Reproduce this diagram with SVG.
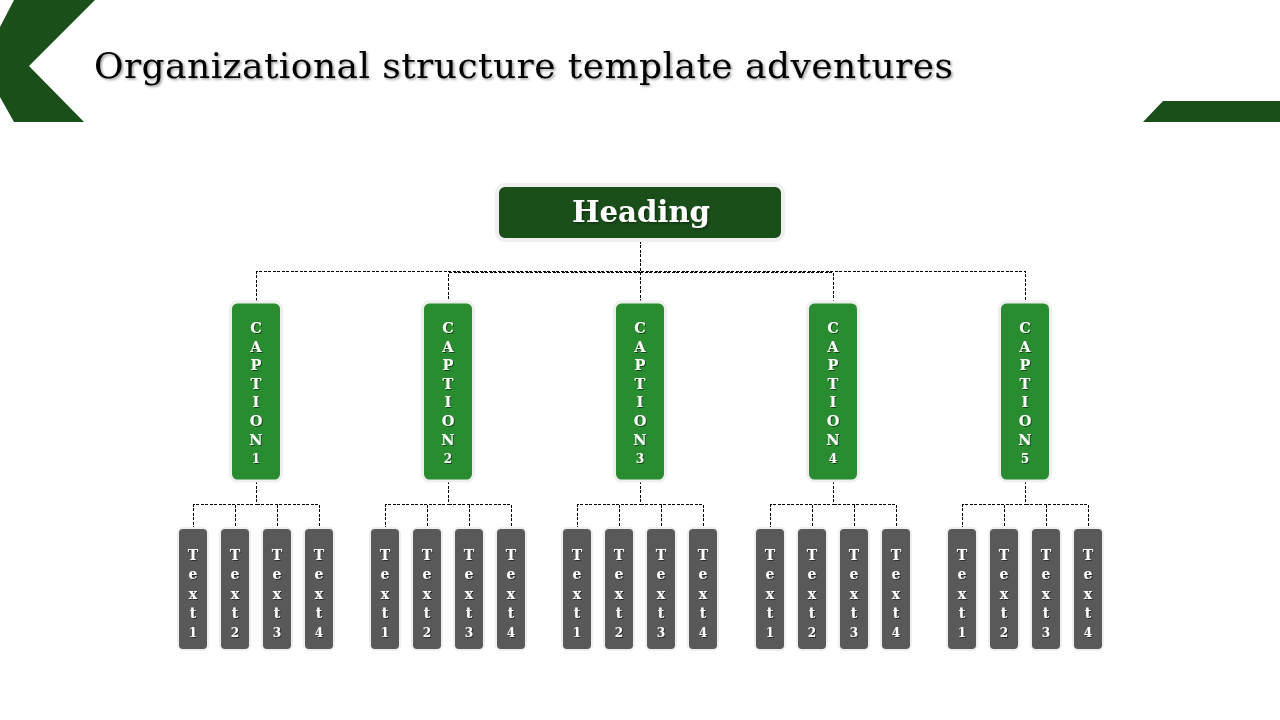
<svg xmlns="http://www.w3.org/2000/svg" width="1280" height="720" viewBox="0 0 1280 720">
<defs>
<filter id="sh" x="-10%" y="-30%" width="120%" height="160%"><feDropShadow dx="1.5" dy="1.5" stdDeviation="1" flood-color="#000" flood-opacity="0.4"/></filter>
<filter id="sh2" x="-50%" y="-50%" width="200%" height="200%"><feDropShadow dx="1" dy="1" stdDeviation="0.6" flood-color="#000" flood-opacity="0.5"/></filter>
</defs>
<style>
.title{font-family:"DejaVu Serif","Liberation Serif",serif;font-size:36px;fill:#000}
.head{font-family:"DejaVu Serif","Liberation Serif",serif;font-size:30px;font-weight:bold;fill:#fff}
.cap{font-family:"DejaVu Serif","Liberation Serif",serif;font-size:14.5px;font-weight:bold;fill:#fff;text-anchor:middle}
.txt{font-family:"DejaVu Serif","Liberation Serif",serif;font-size:14px;font-weight:bold;fill:#fff;text-anchor:middle}
.dg{fill:#1a4f1a}
.capbox{fill:#2a8c30;stroke:#efefef;stroke-width:3}
.tbox{fill:#595959;stroke:#efefef;stroke-width:2}
.con{fill:none;stroke:#000;stroke-width:1;stroke-dasharray:3 1.5;shape-rendering:crispEdges}
</style>
<rect width="1280" height="720" fill="#fff"/>
<g id="decor">
<polygon class="dg" points="14,0 95,0 29,66 84,122 14,122 0,97 0,27"/>
<polygon class="dg" points="1163,101 1280,101 1280,122 1143,122"/>
</g>
<g id="title"><text class="title" x="94" y="78" textLength="859" lengthAdjust="spacing" filter="url(#sh)">Organizational structure template adventures</text></g>
<g id="connectors">
<path class="con" d="M640.5 236 V271.5 H256.5 V302"/>
<path class="con" d="M640.5 236 V272.5 H448.5 V302"/>
<path class="con" d="M640.5 236 V272.5 V302"/>
<path class="con" d="M640.5 236 V272.5 H833.5 V302"/>
<path class="con" d="M640.5 236 V271.5 H1025.5 V302"/>
<path class="con" d="M256.5 481 V504.5 H193.5 V528 M256.5 504.5 H319.5 V528 M235.5 504.5 V528 M277.5 504.5 V528"/>
<path class="con" d="M448.5 481 V504.5 H385.5 V528 M448.5 504.5 H511.5 V528 M427.5 504.5 V528 M469.5 504.5 V528"/>
<path class="con" d="M640.5 481 V504.5 H577.5 V528 M640.5 504.5 H703.5 V528 M619.5 504.5 V528 M661.5 504.5 V528"/>
<path class="con" d="M833.5 481 V504.5 H770.5 V528 M833.5 504.5 H896.5 V528 M812.5 504.5 V528 M854.5 504.5 V528"/>
<path class="con" d="M1025.5 481 V504.5 H962.5 V528 M1025.5 504.5 H1088.5 V528 M1004.5 504.5 V528 M1046.5 504.5 V528"/>
</g>
<g id="heading">
<rect x="497" y="185" width="286" height="55" rx="8" fill="#1a4f1a" stroke="#efefef" stroke-width="4"/>
<text class="head" x="572" y="222" textLength="138" lengthAdjust="spacingAndGlyphs" filter="url(#sh)">Heading</text>
</g>
<g id="caption1"><rect class="capbox" x="230.5" y="302" width="51" height="179" rx="7"/>
<text class="cap" filter="url(#sh2)"><tspan x="256" y="333">C</tspan><tspan x="256" y="351.6">A</tspan><tspan x="256" y="370.2">P</tspan><tspan x="256" y="388.8">T</tspan><tspan x="256" y="407.4">I</tspan><tspan x="256" y="426">O</tspan><tspan x="256" y="444.6">N</tspan><tspan x="256" y="463" font-size="12">1</tspan></text></g>
<g id="caption2"><rect class="capbox" x="422.5" y="302" width="51" height="179" rx="7"/>
<text class="cap" filter="url(#sh2)"><tspan x="448" y="333">C</tspan><tspan x="448" y="351.6">A</tspan><tspan x="448" y="370.2">P</tspan><tspan x="448" y="388.8">T</tspan><tspan x="448" y="407.4">I</tspan><tspan x="448" y="426">O</tspan><tspan x="448" y="444.6">N</tspan><tspan x="448" y="463" font-size="12">2</tspan></text></g>
<g id="caption3"><rect class="capbox" x="614.5" y="302" width="51" height="179" rx="7"/>
<text class="cap" filter="url(#sh2)"><tspan x="640" y="333">C</tspan><tspan x="640" y="351.6">A</tspan><tspan x="640" y="370.2">P</tspan><tspan x="640" y="388.8">T</tspan><tspan x="640" y="407.4">I</tspan><tspan x="640" y="426">O</tspan><tspan x="640" y="444.6">N</tspan><tspan x="640" y="463" font-size="12">3</tspan></text></g>
<g id="caption4"><rect class="capbox" x="807.5" y="302" width="51" height="179" rx="7"/>
<text class="cap" filter="url(#sh2)"><tspan x="833" y="333">C</tspan><tspan x="833" y="351.6">A</tspan><tspan x="833" y="370.2">P</tspan><tspan x="833" y="388.8">T</tspan><tspan x="833" y="407.4">I</tspan><tspan x="833" y="426">O</tspan><tspan x="833" y="444.6">N</tspan><tspan x="833" y="463" font-size="12">4</tspan></text></g>
<g id="caption5"><rect class="capbox" x="999.5" y="302" width="51" height="179" rx="7"/>
<text class="cap" filter="url(#sh2)"><tspan x="1025" y="333">C</tspan><tspan x="1025" y="351.6">A</tspan><tspan x="1025" y="370.2">P</tspan><tspan x="1025" y="388.8">T</tspan><tspan x="1025" y="407.4">I</tspan><tspan x="1025" y="426">O</tspan><tspan x="1025" y="444.6">N</tspan><tspan x="1025" y="463" font-size="12">5</tspan></text></g>

<g id="g1t1"><rect class="tbox" x="178" y="528" width="30" height="122" rx="5"/><text class="txt" filter="url(#sh2)"><tspan x="193" y="560">T</tspan><tspan x="193" y="579.3">e</tspan><tspan x="193" y="598.6">x</tspan><tspan x="193" y="617.9">t</tspan><tspan x="193" y="637.2" font-size="12">1</tspan></text></g>
<g id="g1t2"><rect class="tbox" x="220" y="528" width="30" height="122" rx="5"/><text class="txt" filter="url(#sh2)"><tspan x="235" y="560">T</tspan><tspan x="235" y="579.3">e</tspan><tspan x="235" y="598.6">x</tspan><tspan x="235" y="617.9">t</tspan><tspan x="235" y="637.2" font-size="12">2</tspan></text></g>
<g id="g1t3"><rect class="tbox" x="262" y="528" width="30" height="122" rx="5"/><text class="txt" filter="url(#sh2)"><tspan x="277" y="560">T</tspan><tspan x="277" y="579.3">e</tspan><tspan x="277" y="598.6">x</tspan><tspan x="277" y="617.9">t</tspan><tspan x="277" y="637.2" font-size="12">3</tspan></text></g>
<g id="g1t4"><rect class="tbox" x="304" y="528" width="30" height="122" rx="5"/><text class="txt" filter="url(#sh2)"><tspan x="319" y="560">T</tspan><tspan x="319" y="579.3">e</tspan><tspan x="319" y="598.6">x</tspan><tspan x="319" y="617.9">t</tspan><tspan x="319" y="637.2" font-size="12">4</tspan></text></g>

<g id="g2t1"><rect class="tbox" x="370" y="528" width="30" height="122" rx="5"/><text class="txt" filter="url(#sh2)"><tspan x="385" y="560">T</tspan><tspan x="385" y="579.3">e</tspan><tspan x="385" y="598.6">x</tspan><tspan x="385" y="617.9">t</tspan><tspan x="385" y="637.2" font-size="12">1</tspan></text></g>
<g id="g2t2"><rect class="tbox" x="412" y="528" width="30" height="122" rx="5"/><text class="txt" filter="url(#sh2)"><tspan x="427" y="560">T</tspan><tspan x="427" y="579.3">e</tspan><tspan x="427" y="598.6">x</tspan><tspan x="427" y="617.9">t</tspan><tspan x="427" y="637.2" font-size="12">2</tspan></text></g>
<g id="g2t3"><rect class="tbox" x="454" y="528" width="30" height="122" rx="5"/><text class="txt" filter="url(#sh2)"><tspan x="469" y="560">T</tspan><tspan x="469" y="579.3">e</tspan><tspan x="469" y="598.6">x</tspan><tspan x="469" y="617.9">t</tspan><tspan x="469" y="637.2" font-size="12">3</tspan></text></g>
<g id="g2t4"><rect class="tbox" x="496" y="528" width="30" height="122" rx="5"/><text class="txt" filter="url(#sh2)"><tspan x="511" y="560">T</tspan><tspan x="511" y="579.3">e</tspan><tspan x="511" y="598.6">x</tspan><tspan x="511" y="617.9">t</tspan><tspan x="511" y="637.2" font-size="12">4</tspan></text></g>

<g id="g3t1"><rect class="tbox" x="562" y="528" width="30" height="122" rx="5"/><text class="txt" filter="url(#sh2)"><tspan x="577" y="560">T</tspan><tspan x="577" y="579.3">e</tspan><tspan x="577" y="598.6">x</tspan><tspan x="577" y="617.9">t</tspan><tspan x="577" y="637.2" font-size="12">1</tspan></text></g>
<g id="g3t2"><rect class="tbox" x="604" y="528" width="30" height="122" rx="5"/><text class="txt" filter="url(#sh2)"><tspan x="619" y="560">T</tspan><tspan x="619" y="579.3">e</tspan><tspan x="619" y="598.6">x</tspan><tspan x="619" y="617.9">t</tspan><tspan x="619" y="637.2" font-size="12">2</tspan></text></g>
<g id="g3t3"><rect class="tbox" x="646" y="528" width="30" height="122" rx="5"/><text class="txt" filter="url(#sh2)"><tspan x="661" y="560">T</tspan><tspan x="661" y="579.3">e</tspan><tspan x="661" y="598.6">x</tspan><tspan x="661" y="617.9">t</tspan><tspan x="661" y="637.2" font-size="12">3</tspan></text></g>
<g id="g3t4"><rect class="tbox" x="688" y="528" width="30" height="122" rx="5"/><text class="txt" filter="url(#sh2)"><tspan x="703" y="560">T</tspan><tspan x="703" y="579.3">e</tspan><tspan x="703" y="598.6">x</tspan><tspan x="703" y="617.9">t</tspan><tspan x="703" y="637.2" font-size="12">4</tspan></text></g>

<g id="g4t1"><rect class="tbox" x="755" y="528" width="30" height="122" rx="5"/><text class="txt" filter="url(#sh2)"><tspan x="770" y="560">T</tspan><tspan x="770" y="579.3">e</tspan><tspan x="770" y="598.6">x</tspan><tspan x="770" y="617.9">t</tspan><tspan x="770" y="637.2" font-size="12">1</tspan></text></g>
<g id="g4t2"><rect class="tbox" x="797" y="528" width="30" height="122" rx="5"/><text class="txt" filter="url(#sh2)"><tspan x="812" y="560">T</tspan><tspan x="812" y="579.3">e</tspan><tspan x="812" y="598.6">x</tspan><tspan x="812" y="617.9">t</tspan><tspan x="812" y="637.2" font-size="12">2</tspan></text></g>
<g id="g4t3"><rect class="tbox" x="839" y="528" width="30" height="122" rx="5"/><text class="txt" filter="url(#sh2)"><tspan x="854" y="560">T</tspan><tspan x="854" y="579.3">e</tspan><tspan x="854" y="598.6">x</tspan><tspan x="854" y="617.9">t</tspan><tspan x="854" y="637.2" font-size="12">3</tspan></text></g>
<g id="g4t4"><rect class="tbox" x="881" y="528" width="30" height="122" rx="5"/><text class="txt" filter="url(#sh2)"><tspan x="896" y="560">T</tspan><tspan x="896" y="579.3">e</tspan><tspan x="896" y="598.6">x</tspan><tspan x="896" y="617.9">t</tspan><tspan x="896" y="637.2" font-size="12">4</tspan></text></g>

<g id="g5t1"><rect class="tbox" x="947" y="528" width="30" height="122" rx="5"/><text class="txt" filter="url(#sh2)"><tspan x="962" y="560">T</tspan><tspan x="962" y="579.3">e</tspan><tspan x="962" y="598.6">x</tspan><tspan x="962" y="617.9">t</tspan><tspan x="962" y="637.2" font-size="12">1</tspan></text></g>
<g id="g5t2"><rect class="tbox" x="989" y="528" width="30" height="122" rx="5"/><text class="txt" filter="url(#sh2)"><tspan x="1004" y="560">T</tspan><tspan x="1004" y="579.3">e</tspan><tspan x="1004" y="598.6">x</tspan><tspan x="1004" y="617.9">t</tspan><tspan x="1004" y="637.2" font-size="12">2</tspan></text></g>
<g id="g5t3"><rect class="tbox" x="1031" y="528" width="30" height="122" rx="5"/><text class="txt" filter="url(#sh2)"><tspan x="1046" y="560">T</tspan><tspan x="1046" y="579.3">e</tspan><tspan x="1046" y="598.6">x</tspan><tspan x="1046" y="617.9">t</tspan><tspan x="1046" y="637.2" font-size="12">3</tspan></text></g>
<g id="g5t4"><rect class="tbox" x="1073" y="528" width="30" height="122" rx="5"/><text class="txt" filter="url(#sh2)"><tspan x="1088" y="560">T</tspan><tspan x="1088" y="579.3">e</tspan><tspan x="1088" y="598.6">x</tspan><tspan x="1088" y="617.9">t</tspan><tspan x="1088" y="637.2" font-size="12">4</tspan></text></g>
</svg>
